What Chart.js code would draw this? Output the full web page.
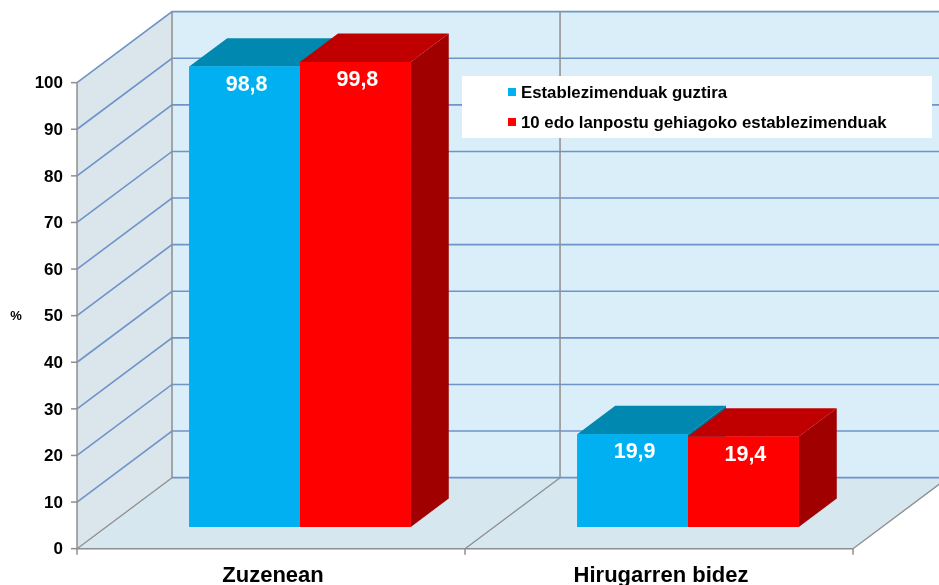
<!DOCTYPE html>
<html><head><meta charset="utf-8">
<script src="https://cdn.jsdelivr.net/npm/chart.js@4"></script>
<style>html,body{margin:0;padding:0;background:#fff;overflow:hidden}#wrap{width:939px;height:585px}</style>
</head><body><div id="wrap"><canvas id="c" width="939" height="585"></canvas></div>
<script>
const categories = ['Zuzenean', 'Hirugarren bidez'];
const seriesNames = ['Establezimenduak guztira', '10 edo lanpostu gehiagoko establezimenduak'];
const allEstablishments = [98.8, 19.9];
const largeEstablishments = [99.8, 19.4];
const yTickValues = [0, 10, 20, 30, 40, 50, 60, 70, 80, 90, 100];
const yAxisTitle = '%';

const FONT = '"Liberation Sans", Arial, Helvetica, sans-serif';
const DX = 95, DY = 71;          // full depth of the 3D box
const dF = -0.305, dB = 0.695;   // front floor edge and back wall, relative to bar plane
const barDepth = 0.40;
const faces = [
  {front: '#00B0F0', top: '#0088B0', side: '#006F93'},
  {front: '#FF0000', top: '#C00000', side: '#A00000'}
];
const P = (x, y, d) => [x + d * DX, y - d * DY];

function poly(ctx, pts, fill) {
  ctx.beginPath();
  ctx.moveTo(pts[0][0], pts[0][1]);
  for (let i = 1; i < pts.length; i++) ctx.lineTo(pts[i][0], pts[i][1]);
  ctx.closePath();
  ctx.fillStyle = fill; ctx.fill();
}
function line(ctx, pts, color, w) {
  ctx.beginPath();
  ctx.moveTo(pts[0][0], pts[0][1]);
  for (let i = 1; i < pts.length; i++) ctx.lineTo(pts[i][0], pts[i][1]);
  ctx.strokeStyle = color; ctx.lineWidth = w; ctx.stroke();
}

const box3d = {
  id: 'box3d',
  beforeDatasetsDraw(chart) {
    const ctx = chart.ctx, xs = chart.scales.x, ys = chart.scales.y;
    const L = xs.left, R = xs.right;
    const y0 = ys.getPixelForValue(0), yT = ys.getPixelForValue(100);
    ctx.save();
    poly(ctx, [P(L, yT, dB), P(R, yT, dB), P(R, y0, dB), P(L, y0, dB)], '#D9EEF9');
    poly(ctx, [P(L, yT, dF), P(L, yT, dB), P(L, y0, dB), P(L, y0, dF)], '#DAE5EC');
    poly(ctx, [P(L, y0, dF), P(L, y0, dB), P(R, y0, dB), P(R, y0, dF)], '#D6E7EF');
    const grid = '#6E94C8', gray = '#8E8E8E';
    yTickValues.forEach(v => {
      const yv = ys.getPixelForValue(v);
      if (v > 0) line(ctx, [P(L, yv, dF), P(L, yv, dB), P(R, yv, dB)], grid, 1.6);
      else line(ctx, [P(L, yv, dB), P(R, yv, dB)], grid, 1.6);
    });
    line(ctx, [P(L, y0, dB), P(L, yT, dB)], gray, 1.5);
    const bounds = [];
    for (let i = 0; i < categories.length - 1; i++) {
      bounds.push((xs.getPixelForValue(i) + xs.getPixelForValue(i + 1)) / 2);
    }
    bounds.forEach(xb => {
      line(ctx, [P(xb, yT, dB), P(xb, y0, dB)], gray, 1.5);
      line(ctx, [P(xb, y0, dF), P(xb, y0, dB)], gray, 1.3);
    });
    line(ctx, [P(L, y0, dF), P(L, y0, dB)], gray, 1.3);
    line(ctx, [P(R, y0, dF), P(R, y0, dB)], gray, 1.3);
    line(ctx, [P(L, yT, dF), P(L, y0, dF)], gray, 1.5);
    line(ctx, [P(L, y0, dF), P(R, y0, dF)], gray, 1.5);
    yTickValues.forEach(v => {
      const p = P(L, ys.getPixelForValue(v), dF);
      line(ctx, [[p[0] - 6, p[1]], p], gray, 1.5);
    });
    [L, ...bounds, R].forEach(xb => {
      const p = P(xb, y0, dF);
      line(ctx, [p, [p[0], p[1] + 6]], gray, 1.5);
    });
    ctx.fillStyle = '#000';
    ctx.font = 'bold 17px ' + FONT;
    ctx.textAlign = 'right'; ctx.textBaseline = 'middle';
    yTickValues.forEach(v => {
      const p = P(L, ys.getPixelForValue(v), dF);
      ctx.fillText(String(v), p[0] - 14, p[1] + 1);
    });
    ctx.font = 'bold 13px ' + FONT;
    ctx.textAlign = 'center';
    const mid = P(L, ys.getPixelForValue(50), dF);
    ctx.fillText(yAxisTitle, 16, mid[1] + 1);
    ctx.font = 'bold 22px ' + FONT;
    ctx.textBaseline = 'alphabetic';
    categories.forEach((c, i) => {
      const p = P(xs.getPixelForValue(i), y0, dF);
      ctx.fillText(c, p[0] + 2, p[1] + 33);
    });
    ctx.restore();
  },
  afterDatasetsDraw(chart) {
    const ctx = chart.ctx;
    ctx.save();
    chart.data.datasets.forEach((ds, di) => {
      const f = faces[di];
      chart.getDatasetMeta(di).data.forEach(bar => {
        const l = bar.x - bar.width / 2, r = bar.x + bar.width / 2, t = bar.y, b = bar.base;
        poly(ctx, [[r, t], P(r, t, barDepth), P(r, b, barDepth), [r, b]], f.side);
        poly(ctx, [[l, t], [r, t], P(r, t, barDepth), P(l, t, barDepth)], f.top);
        poly(ctx, [[l, t], [r, t], [r, b], [l, b]], f.front);
      });
    });
    ctx.fillStyle = '#fff';
    ctx.font = 'bold 21.5px ' + FONT;
    ctx.textAlign = 'center'; ctx.textBaseline = 'middle';
    chart.data.datasets.forEach((ds, di) => {
      chart.getDatasetMeta(di).data.forEach((bar, i) => {
        ctx.fillText(ds.data[i].toFixed(1).replace('.', ','), bar.x + 2, bar.y + 18);
      });
    });
    ctx.restore();
  },
  afterDraw(chart) {
    const ctx = chart.ctx;
    ctx.save();
    ctx.fillStyle = '#fff';
    ctx.fillRect(462, 76, 470, 62);
    ctx.font = 'bold 16.8px ' + FONT;
    ctx.textAlign = 'left'; ctx.textBaseline = 'middle';
    chart.data.datasets.forEach((ds, di) => {
      const cy = 92 + di * 30;
      ctx.fillStyle = faces[di].front;
      ctx.fillRect(508, cy - 4, 8, 8);
      ctx.fillStyle = '#000';
      ctx.fillText(ds.label, 521, cy + 1);
    });
    ctx.restore();
  }
};

new Chart(document.getElementById('c'), {
  type: 'bar',
  data: {
    labels: categories,
    datasets: [
      {label: seriesNames[0], data: allEstablishments, backgroundColor: faces[0].front},
      {label: seriesNames[1], data: largeEstablishments, backgroundColor: faces[1].front}
    ]
  },
  options: {
    responsive: false, animation: false, devicePixelRatio: 1,
    layout: {padding: {left: 106, right: 57, top: 61, bottom: 58}},
    datasets: {bar: {categoryPercentage: 0.571, barPercentage: 1, borderWidth: 0}},
    plugins: {legend: {display: false}, tooltip: {enabled: false}},
    scales: {
      x: {display: false, offset: true},
      y: {display: false, min: 0, max: 100}
    }
  },
  plugins: [box3d]
});
</script></body></html>
